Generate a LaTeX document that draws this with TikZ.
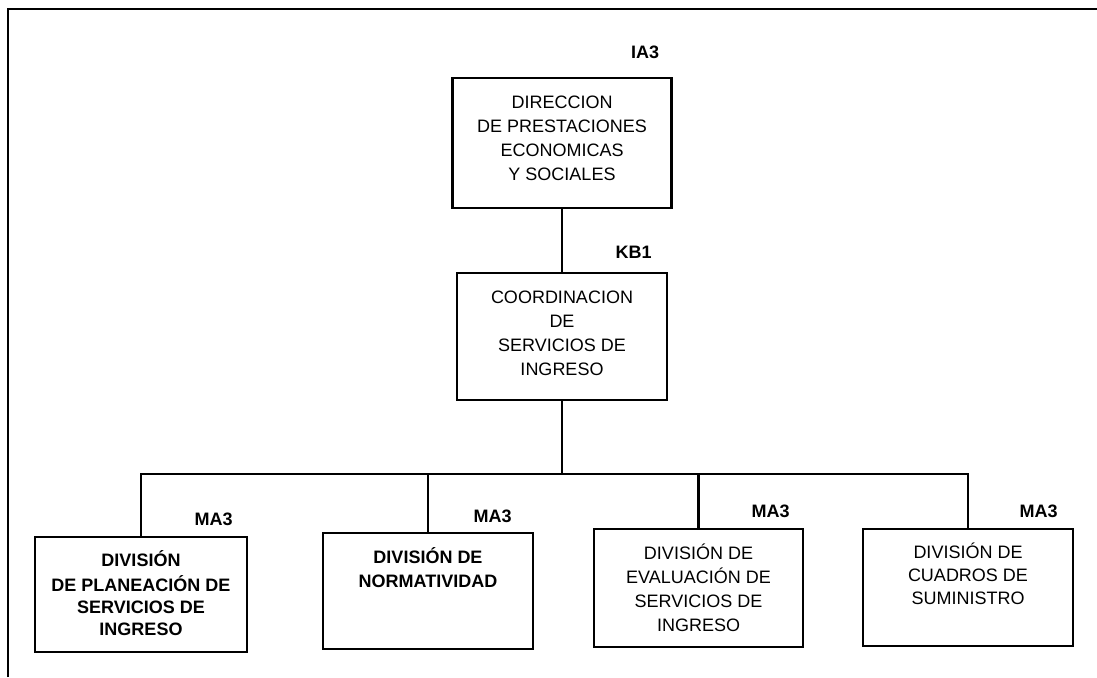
\documentclass[tikz,border=0pt]{standalone}
\usepackage{fontspec}
\setmainfont{Liberation Sans}
\usetikzlibrary{positioning}
\tikzset{
    caja/.style={draw, line width=1.3pt, inner sep=0pt, outer sep=0pt},
    clave/.style={anchor=south east, inner sep=0pt, font=\fontsize{9}{11}\selectfont\bfseries},
    linea/.style={line width=1.3pt}
}
% text of a box: [line spacing], width, height, lines
\newcommand{\cajatexto}[4][12pt]{\parbox[c][#3][t]{#2}{\fontsize{9}{#1}\selectfont\centering\vspace*{6.8pt}\strut#4}}

\begin{document}
\begin{tikzpicture}[x=0.5pt, y=-0.5pt]
    \useasboundingbox (0,0) rectangle (1097,677);
    % Frame
    \draw[linea] (8,677) -- (8,9) -- (1097,9);

    % Boxes
    \node[caja] (direccion) at (562,143) {\cajatexto{109.5pt}{65pt}{DIRECCION\\DE PRESTACIONES\\ECONOMICAS\\Y SOCIALES}};
    \node[caja] (coordinacion) at (562,336.5) {\cajatexto{105pt}{63.5pt}{COORDINACION\\DE\\SERVICIOS DE\\INGRESO}};
    \node[caja] (planeacion) at (141,594.5) {\cajatexto[11pt]{106pt}{57.5pt}{\bfseries DIVISIÓN\\DE PLANEACIÓN DE\\SERVICIOS DE\\INGRESO}};
    \node[caja] (normatividad) at (428,591) {\cajatexto{105pt}{58pt}{\bfseries DIVISIÓN DE\\NORMATIVIDAD}};
    \node[caja] (evaluacion) at (698.5,588) {\cajatexto{104.5pt}{59pt}{DIVISIÓN DE\\EVALUACIÓN DE\\SERVICIOS DE\\INGRESO}};
    \node[caja] (suministro) at (968,587.5) {\cajatexto[11.5pt]{105pt}{58.5pt}{DIVISIÓN DE\\CUADROS DE\\SUMINISTRO}};

    % Keys
    \node[clave] (ia3) at ([xshift=-6pt,yshift=9.5pt]direccion.north east) {IA3};
    \node[clave] (kb1) at ([xshift=-7.5pt,yshift=7pt]coordinacion.north east) {KB1};
    \node[clave] (ma3a) at ([xshift=-7pt,yshift=5.5pt]planeacion.north east) {MA3};
    \node[clave] (ma3b) at ([xshift=-10.5pt,yshift=5pt]normatividad.north east) {MA3};
    \node[clave] (ma3c) at ([xshift=-6.5pt,yshift=5.5pt]evaluacion.north east) {MA3};
    \node[clave] (ma3d) at ([xshift=-7.5pt,yshift=5.5pt]suministro.north east) {MA3};

    % Lines
    \coordinate (bus) at (562,474);
    \draw[linea] (direccion.south) -- (coordinacion.north);
    \draw[linea] (coordinacion.south) -- (bus);
    \draw[linea] (planeacion.north) -- (planeacion.north |- bus) -- (suministro.north |- bus) -- (suministro.north);
    \draw[linea] (normatividad.north) -- (normatividad.north |- bus);
    \draw[linea] (evaluacion.north) -- (evaluacion.north |- bus);
\end{tikzpicture}
\end{document}
